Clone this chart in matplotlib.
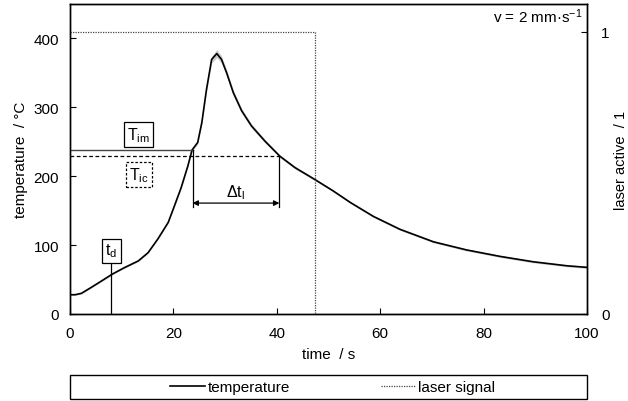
import matplotlib
matplotlib.use("Agg")
import matplotlib.pyplot as plt
from matplotlib.patches import Rectangle
import numpy as np

plt.rcParams['font.family'] = ['Liberation Sans', 'DejaVu Sans']
plt.rcParams['mathtext.fontset'] = 'custom'
plt.rcParams['mathtext.rm'] = 'Liberation Sans'
plt.rcParams['mathtext.it'] = 'Liberation Sans'
plt.rcParams['font.size'] = 11

# temperature curve (time in s, temperature in °C)
time = [0, 1.0, 2.2, 4.1, 6.1, 8.2, 10.6, 13.2, 15.1, 17.0, 19.0, 20.2, 21.5, 22.8, 23.6,
        24.7, 25.5, 26.4, 27.4, 28.4, 29.3, 30.3, 31.6, 33.2, 35.1, 37.7, 40.6, 43.5,
        47.3, 50.9, 54.2, 58.7, 63.8, 70.3, 76.7, 83.2, 89.6, 96.1, 100]
temp = [28, 28, 30, 38.6, 48, 58, 67.6, 77, 89, 109, 133, 157, 183.5, 215, 238,
        249, 278, 326, 369.6, 378, 369.6, 350, 321, 295, 273, 251, 229, 212.6,
        195.5, 178.7, 162, 141.6, 123, 104.8, 93, 83.6, 75.8, 70, 67.7]
temp_err = [1, 1, 1, 1, 1, 1, 1, 1, 1, 1, 1.2, 1.5, 2, 2, 2,
            2.5, 3, 4, 5, 6, 5, 4.5, 4, 3.5, 3, 2.5, 2, 2,
            1.5, 1.5, 1.5, 1.5, 1.5, 1.5, 1.5, 1.5, 1.5, 1.5, 1.5]

# laser signal
laser_t = [0, 47.4, 47.4, 100]
laser_v = [1, 1, 0, 0]

# characteristic values
T_im = 238
T_ic = 229.5
t_im = 23.7
t_ic = 40.5
t_d = 8

fig = plt.figure(figsize=(6.28, 4.02), dpi=100)
ax = fig.add_axes([70/628, 1-315/402, 517/628, 310/402])
ax2 = ax.twinx()

t_arr = np.array(time)
T_arr = np.array(temp)
e_arr = np.array(temp_err)
ax.fill_between(t_arr, T_arr - e_arr, T_arr + e_arr, color='#cccccc', lw=0, zorder=2)
l1, = ax.plot(t_arr, T_arr, color='black', lw=1.2, zorder=3, label='temperature')

l2, = ax2.plot(laser_t, laser_v, color='#444444', lw=0.9, ls=(0, (1, 1)), label='laser signal')

# characteristic lines
ax.plot([0, t_im], [T_im, T_im], color='#444444', lw=1.0, zorder=3)
ax.plot([0, t_ic], [T_ic, T_ic], color='black', lw=0.9, ls=(0, (3, 2)), zorder=3)
ax.plot([t_im, t_im], [T_im, 155], color='black', lw=0.9, zorder=3)
ax.plot([t_ic, t_ic], [T_ic, 155], color='black', lw=0.9, zorder=3)
ax.annotate('', xy=(t_im, 161), xytext=(t_ic, 161),
            arrowprops=dict(arrowstyle='<|-|>', color='black', lw=0.9,
                            shrinkA=0, shrinkB=0, mutation_scale=8))
ax.text((t_im + t_ic) / 2, 177, r'$\Delta$t$_\mathrm{l}$', ha='center', va='center', fontsize=11.5)
ax.plot([t_d, t_d], [0, 75], color='black', lw=0.9, zorder=3)

ax.text(13.3, 261, r'T$_\mathrm{im}$', ha='center', va='center', fontsize=11.5,
        bbox=dict(boxstyle='square,pad=0.2', fc='white', ec='black', lw=0.9))
ax.text(13.3, 202, r'T$_\mathrm{ic}$', ha='center', va='center', fontsize=11.5,
        bbox=dict(boxstyle='square,pad=0.2', fc='white', ec='black', lw=0.9, ls=(0, (2, 1.5))))
ax.text(t_d, 92, r't$_\mathrm{d}$', ha='center', va='center', fontsize=11.5,
        bbox=dict(boxstyle='square,pad=0.2', fc='white', ec='black', lw=0.9))

ax.text(0.992, 0.962, r'v = 2 mm·s$^{-1}$', transform=ax.transAxes, ha='right', va='center', fontsize=11)

ax.set_xlim(0, 100)
ax.set_ylim(0, 450)
ax2.set_ylim(0, 310/282)
ax.set_xticks([0, 20, 40, 60, 80, 100])
ax.set_yticks([0, 100, 200, 300, 400])
ax2.set_yticks([0, 1])
ax.tick_params(direction='in', length=4, pad=8, labelsize=11)
ax.tick_params(axis='x', pad=9)
ax2.tick_params(direction='in', length=4, pad=10, labelsize=11)
ax.set_xlabel('time  / s', labelpad=5)
ax.set_ylabel('temperature  / °C', labelpad=4)
ax2.set_ylabel('laser active  / 1', labelpad=3, fontsize=10.5)
for a in (ax, ax2):
    for s in a.spines.values():
        s.set_linewidth(1.0)

# legend box below the axes
fig.patches.append(Rectangle((70/628, 2/402), 517/628, 24/402, transform=fig.transFigure,
                             fill=False, ec='black', lw=1.0))
leg = fig.legend([l1, l2], ['temperature', 'laser signal'], loc='center',
                 bbox_to_anchor=(0.53, 14/402), ncol=2, frameon=False,
                 handlelength=2.3, handletextpad=0.12, columnspacing=6.0,
                 borderaxespad=0, borderpad=0, fontsize=11)

fig.savefig('out.png', dpi=100)
